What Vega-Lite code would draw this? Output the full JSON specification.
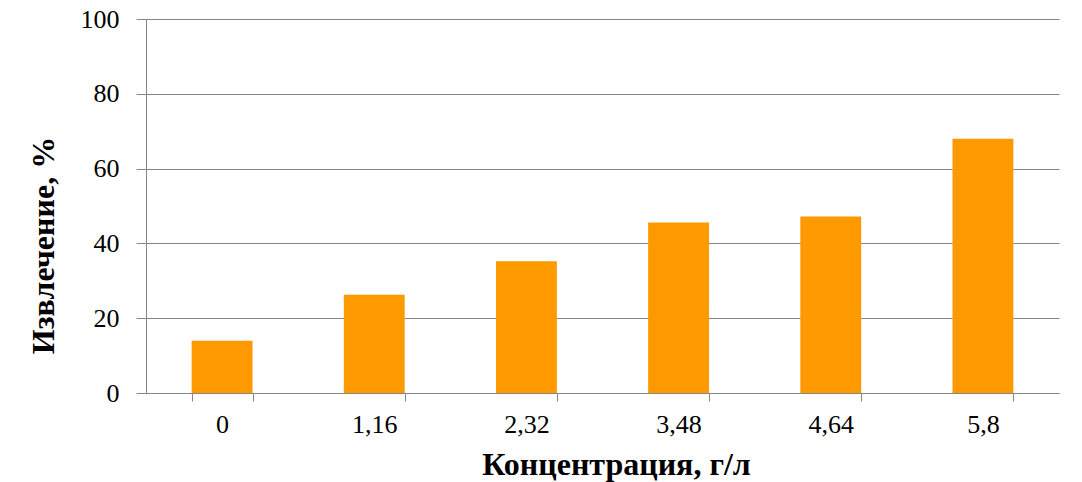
{
  "$schema": "https://vega.github.io/schema/vega-lite/v6.json",
  "autosize": "none",
  "width": 913,
  "height": 374,
  "padding": {"left": 146, "top": 19, "right": 23, "bottom": 89},
  "background": "white",
  "data": {"values": [
    {"c": "0", "v": 14.0},
    {"c": "1,16", "v": 26.3},
    {"c": "2,32", "v": 35.2},
    {"c": "3,48", "v": 45.6},
    {"c": "4,64", "v": 47.2},
    {"c": "5,8", "v": 68.0}
  ]},
  "mark": {"type": "bar", "color": "#FF9900"},
  "encoding": {
    "x": {
      "field": "c", "type": "nominal", "sort": null,
      "scale": {"paddingInner": 0.6, "paddingOuter": 0.3},
      "axis": {
        "title": "Концентрация, г/л",
        "labelAngle": 0,
        "tickBand": "extent",
        "tickSize": 8,
        "tickColor": "#868686",
        "domainColor": "#868686",
        "labelFont": "Liberation Serif",
        "labelFontSize": 26,
        "labelColor": "black",
        "labelPadding": 10,
        "titleFont": "Liberation Serif",
        "titleFontSize": 32,
        "titleFontWeight": "bold",
        "titleColor": "black",
        "titleX": 470,
        "titleY": 81,
        "titleBaseline": "alphabetic"
      }
    },
    "y": {
      "field": "v", "type": "quantitative",
      "scale": {"domain": [0, 100]},
      "axis": {
        "title": "Извлечение, %",
        "values": [0, 20, 40, 60, 80, 100],
        "tickSize": 10,
        "tickColor": "#868686",
        "domainColor": "#868686",
        "gridColor": "#868686",
        "labelFont": "Liberation Serif",
        "labelFontSize": 26,
        "labelColor": "black",
        "labelPadding": 17,
        "titleFont": "Liberation Serif",
        "titleFontSize": 32,
        "titleFontWeight": "bold",
        "titleColor": "black",
        "titleY": 226,
        "titlePadding": 20
      }
    }
  },
  "config": {"view": {"stroke": null}}
}
